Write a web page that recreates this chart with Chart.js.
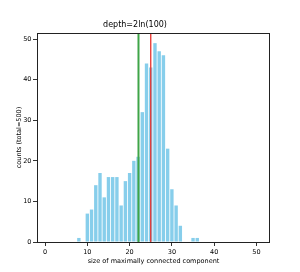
<!DOCTYPE html>
<html>
<head>
<meta charset="utf-8">
<script src="https://cdn.jsdelivr.net/npm/chart.js@4/dist/chart.umd.min.js"></script>
<style>
  html, body { margin: 0; padding: 0; background: #fff; }
  #wrap { width: 300px; height: 272px; }
</style>
</head>
<body>
<div id="wrap"><canvas id="histChart" width="300" height="272"></canvas></div>
<script>
// component sizes (bin centres) and how many of the 500 runs landed there
const sizes  = [8, 10, 11, 12, 13, 14, 15, 16, 17, 18, 19, 20, 21, 22, 23, 24, 25, 26, 27, 28, 29, 30, 31, 32, 35, 36];
const counts = [1, 7, 8, 14, 17, 11, 16, 16, 16, 9, 15, 17, 20, 21, 32, 44, 43, 49, 47, 46, 23, 13, 9, 4, 1, 1];

// marker lines
const greenLineX = 22.1;
const redLineX = 25;

const xTicks = [0, 10, 20, 30, 40, 50];
const yTicks = [0, 10, 20, 30, 40, 50];

const fontFamily = 'DejaVu Sans';

// vertical reference lines + black frame round the plot
const markersAndFrame = {
    id: 'markersAndFrame',
    afterDatasetsDraw(chart) {
        const { ctx, chartArea, scales } = chart;
        ctx.save();
        const drawLine = (value, color, width) => {
            const px = scales.x.getPixelForValue(value);
            ctx.strokeStyle = color;
            ctx.lineWidth = width;
            ctx.beginPath();
            ctx.moveTo(px, chartArea.top);
            ctx.lineTo(px, chartArea.bottom);
            ctx.stroke();
        };
        drawLine(greenLineX, '#3fa548', 2);
        drawLine(redLineX, '#e8302c', 1.3);

        ctx.strokeStyle = '#222';
        ctx.lineWidth = 1;
        ctx.strokeRect(chartArea.left + 0.5, chartArea.top + 0.5,
            chartArea.right - chartArea.left - 1, chartArea.bottom - chartArea.top);
        ctx.restore();
    }
};

const ctx = document.getElementById('histChart');
new Chart(ctx, {
    type: 'bar',
    data: {
        datasets: [{
            data: sizes.map((s, i) => ({ x: s, y: counts[i] })),
            backgroundColor: '#87ceeb',
            borderWidth: 0,
            barPercentage: 0.8,
            categoryPercentage: 1.0
        }]
    },
    options: {
        responsive: false,
        animation: false,
        layout: { padding: { left: 0, right: 30, top: 0, bottom: 0 } },
        plugins: {
            legend: { display: false },
            tooltip: { enabled: false },
            title: {
                display: true,
                text: 'depth=2ln(100)',
                color: '#000',
                font: { family: fontFamily, size: 8, weight: 'normal', lineHeight: 1.2 },
                padding: { top: 20, bottom: 3.4 }
            }
        },
        scales: {
            x: {
                type: 'linear',
                offset: false,
                min: -1.9,
                max: 53.2,
                afterFit(scale) { scale.height = 30; },
                afterBuildTicks(scale) { scale.ticks = xTicks.map(v => ({ value: v })); },
                grid: { display: true, offset: false, drawOnChartArea: false, drawTicks: true, tickLength: 4, color: '#333' },
                border: { display: false },
                ticks: {
                    color: '#000',
                    padding: 2,
                    maxRotation: 0,
                    font: { family: fontFamily, size: 6.5 }
                },
                title: {
                    display: true,
                    text: 'size of maximally connected component',
                    color: '#000',
                    font: { family: fontFamily, size: 6.5, lineHeight: 1.2 },
                    padding: { top: 0, bottom: 6.4 }
                }
            },
            y: {
                min: 0,
                max: 51.5,
                afterFit(scale) { scale.width = 37; },
                afterBuildTicks(scale) { scale.ticks = yTicks.map(v => ({ value: v })); },
                grid: { display: true, drawOnChartArea: false, drawTicks: true, tickLength: 4, color: '#333' },
                border: { display: false },
                ticks: {
                    color: '#000',
                    padding: 1.5,
                    font: { family: fontFamily, size: 6.5 }
                },
                title: {
                    display: true,
                    text: 'counts (total=500)',
                    color: '#000',
                    font: { family: fontFamily, size: 6.5, lineHeight: 1.2 },
                    padding: { top: 15.5, bottom: 0 }
                }
            }
        }
    },
    plugins: [markersAndFrame]
});
</script>
</body>
</html>
